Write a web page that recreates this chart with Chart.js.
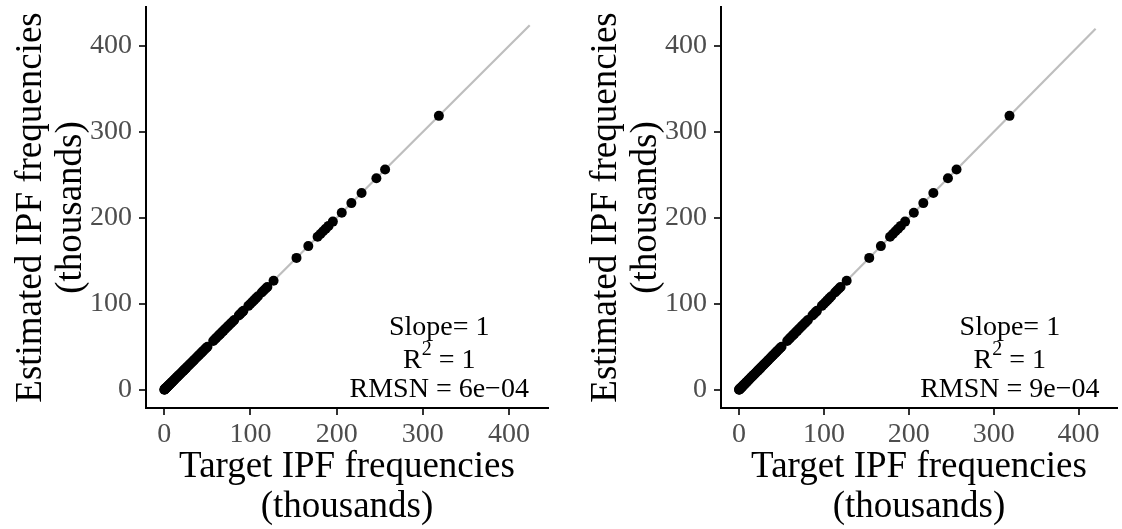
<!DOCTYPE html>
<html>
<head>
    <meta charset="UTF-8">
    <script src="https://cdn.jsdelivr.net/npm/chart.js@4.4.1/dist/chart.umd.min.js"></script>
    <style>
        body {
            margin: 0;
            background: white;
            width: 1122px;
            height: 529px;
            position: relative;
            overflow: hidden;
        }
        canvas {
            position: absolute;
            top: 0;
        }
        #leftChart { left: 0; }
        #rightChart { left: 575px; }
    </style>
</head>
<body>
    <canvas id="leftChart" width="561" height="529"></canvas>
    <canvas id="rightChart" width="547" height="529"></canvas>

    <script>
        // cell frequencies in thousands
        const targetFreq = [
            0.1, 0.3, 0.5, 0.8, 1.1, 1.4, 1.8, 2.2, 2.7, 3.1, 3.6, 4.1, 4.7, 5.2, 5.8, 6.4,
            7.1, 7.8, 8.5, 9.2, 10, 10.8, 11.6, 12.5, 13.3, 14.2, 15.1, 16, 17, 18, 19, 20.1,
            21.2, 22.3, 23.4, 24.6, 25.8, 27, 28.2, 29.5, 30.8, 32.1, 33.5, 34.9, 36.3, 37.8,
            39.2, 40.7, 42.3, 43.8, 45.3, 47, 48.6, 50.1,
            56.8, 58.4, 60.1, 61.9, 63.6, 65.3, 67.1, 68.8, 70.6, 72.4, 74.1, 75.9, 77.7, 79.5, 81.2,
            86.5, 88.4, 90.3, 91.8,
            97.6, 99.8, 102.1, 104.3, 106.6, 108.7,
            113.1, 115.4, 117.8, 119.6,
            126.8, 153.4, 167.1, 177.9, 181.2, 184.3, 187.4, 190.6, 195.6, 205.9, 217.1,
            228.9, 246.1, 256.2, 318.6
        ];
        const estimatedFreq = [
            0.1, 0.3, 0.5, 0.8, 1.1, 1.4, 1.8, 2.2, 2.7, 3.1, 3.6, 4.1, 4.7, 5.2, 5.8, 6.4,
            7.1, 7.8, 8.5, 9.2, 10, 10.8, 11.6, 12.5, 13.3, 14.2, 15.1, 16, 17, 18, 19, 20.1,
            21.2, 22.3, 23.4, 24.6, 25.8, 27, 28.2, 29.5, 30.8, 32.1, 33.5, 34.9, 36.3, 37.8,
            39.2, 40.7, 42.3, 43.8, 45.3, 47, 48.6, 50.1,
            56.8, 58.4, 60.1, 61.9, 63.6, 65.3, 67.1, 68.8, 70.6, 72.4, 74.1, 75.9, 77.7, 79.5, 81.2,
            86.5, 88.4, 90.3, 91.8,
            97.6, 99.8, 102.1, 104.3, 106.6, 108.7,
            113.1, 115.4, 117.8, 119.6,
            126.8, 153.4, 167.1, 177.9, 181.2, 184.3, 187.4, 190.6, 195.6, 205.9, 217.1,
            228.9, 246.1, 256.2, 318.6
        ];

        const tickValues = [0, 100, 200, 300, 400];
        const axisMin = -21.2;
        const axisMax = 445.2;

        // per-panel values
        const fitLineEnd = [424, 420];
        const slopeLabels = ['1', '1'];
        const r2Labels = ['1', '1'];
        const rmsnLabels = ['6e\u221204', '9e\u221204'];

        const serif = '"Liberation Serif", "Times New Roman", serif';
        Chart.defaults.font.family = serif;

        // fit statistics in the lower right of each panel
        const statsLabel = {
            id: 'statsLabel',
            afterDatasetsDraw(chart, args, opts) {
                const ctx = chart.ctx;
                const cx = chart.scales.x.getPixelForValue(319);
                const base = chart.scales.y.getPixelForValue(-8);
                ctx.save();
                ctx.fillStyle = 'black';
                ctx.textBaseline = 'alphabetic';
                ctx.font = '28px ' + serif;
                ctx.textAlign = 'center';
                ctx.fillText('Slope= ' + opts.slope, cx, base - 62);
                ctx.fillText('RMSN = ' + opts.rmsn, cx, base);

                // R^2 line with a raised small 2
                const rest = ' = ' + opts.r2;
                ctx.textAlign = 'left';
                const wR = ctx.measureText('R').width;
                const wRest = ctx.measureText(rest).width;
                ctx.font = '20px ' + serif;
                const wSup = ctx.measureText('2').width;
                let x = cx - (wR + wSup + wRest) / 2;
                const y = base - 29;
                ctx.font = '28px ' + serif;
                ctx.fillText('R', x, y);
                ctx.font = '20px ' + serif;
                ctx.fillText('2', x + wR, y - 13);
                ctx.font = '28px ' + serif;
                ctx.fillText(rest, x + wR + wSup, y);
                ctx.restore();
            }
        };

        function axisOptions(titleText, isX) {
            return {
                type: 'linear',
                min: axisMin,
                max: axisMax,
                afterBuildTicks: (axis) => {
                    axis.ticks = tickValues.map(v => ({ value: v }));
                },
                afterFit: (axis) => {
                    // fixed panel geometry; no extra room for edge labels
                    axis.paddingTop = 0;
                    axis.paddingBottom = 0;
                    axis.paddingLeft = 0;
                    axis.paddingRight = 0;
                    if (isX) axis.height = 121;
                    else axis.width = 146;
                },
                border: { display: true, color: 'black', width: 2 },
                grid: {
                    drawOnChartArea: false,
                    drawTicks: true,
                    tickLength: 7,
                    color: '#333333',
                    lineWidth: 2
                },
                ticks: {
                    color: '#4D4D4D',
                    font: { size: 28, family: serif },
                    padding: isX ? 3 : 7,
                    maxRotation: 0,
                    autoSkip: false
                },
                title: {
                    display: true,
                    text: titleText,
                    color: 'black',
                    font: { size: 37, family: serif, lineHeight: 1.08 },
                    padding: isX ? { top: 0, bottom: 2 } : { top: 11, bottom: 0 }
                }
            };
        }

        function makePanel(canvasId, idx, rightPad) {
            const points = targetFreq.map((t, i) => ({ x: t, y: estimatedFreq[i] }));
            new Chart(document.getElementById(canvasId), {
                type: 'scatter',
                data: {
                    datasets: [
                        {
                            data: points,
                            backgroundColor: 'black',
                            borderWidth: 0,
                            pointRadius: 5,
                            order: 1
                        },
                        {
                            type: 'line',
                            data: [{ x: 0, y: 0 }, { x: fitLineEnd[idx], y: fitLineEnd[idx] }],
                            borderColor: '#BEBEBE',
                            borderWidth: 2.2,
                            pointRadius: 0,
                            fill: false,
                            order: 2
                        }
                    ]
                },
                options: {
                    responsive: false,
                    animation: false,
                    devicePixelRatio: 1,
                    layout: { padding: { top: 7, right: rightPad, bottom: 0, left: 0 } },
                    plugins: {
                        legend: { display: false },
                        tooltip: { enabled: false },
                        statsLabel: {
                            slope: slopeLabels[idx],
                            r2: r2Labels[idx],
                            rmsn: rmsnLabels[idx]
                        }
                    },
                    scales: {
                        x: axisOptions(['Target IPF frequencies', '(thousands)'], true),
                        y: axisOptions(['Estimated IPF frequencies', '(thousands)'], false)
                    }
                },
                plugins: [statsLabel]
            });
        }

        makePanel('leftChart', 0, 13);
        makePanel('rightChart', 1, 0);
    </script>
</body>
</html>
